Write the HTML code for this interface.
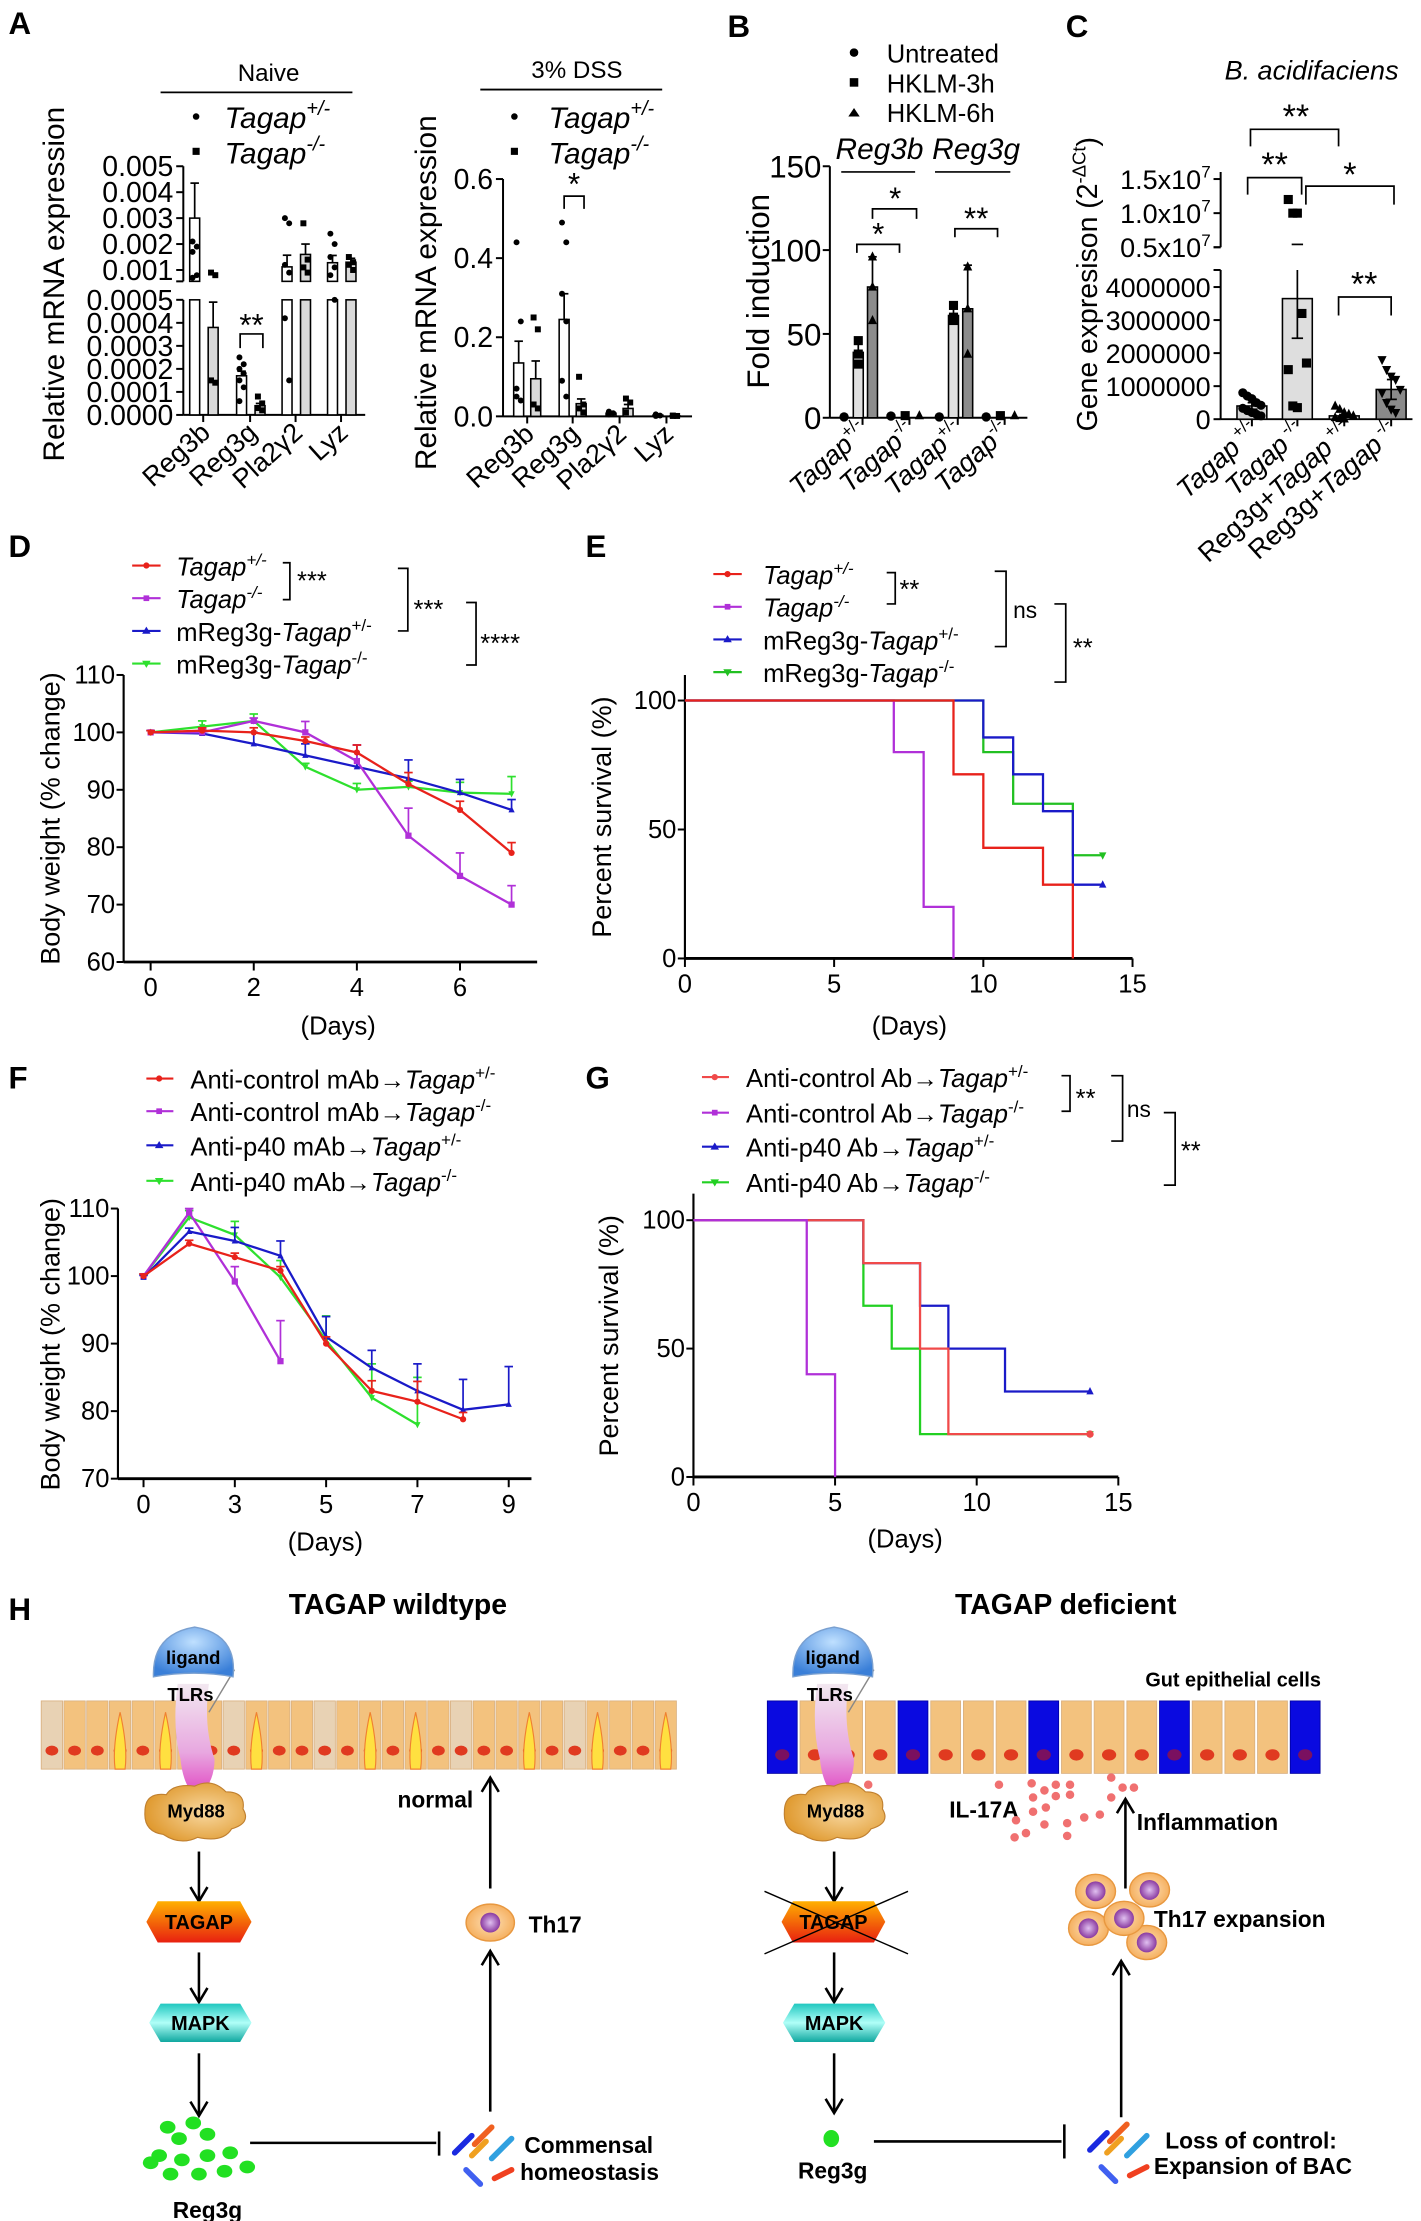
<!DOCTYPE html>
<html><head><meta charset="utf-8"><title>TAGAP figure</title>
<style>
html,body{margin:0;padding:0;background:#fff;}
svg{display:block;font-family:"Liberation Sans",Arial,sans-serif;}
</style></head>
<body>
<svg id="fig" xmlns="http://www.w3.org/2000/svg" width="1421" height="2221" viewBox="0 0 1000 1563">
<defs>
<linearGradient id="gTagap" x1="0" y1="0" x2="0" y2="1"><stop offset="0" stop-color="#ffb000"/><stop offset="1" stop-color="#e82010"/></linearGradient>
<linearGradient id="gMapk" x1="0" y1="0" x2="0" y2="1"><stop offset="0" stop-color="#20c8c0"/><stop offset="0.5" stop-color="#b0fff8"/><stop offset="1" stop-color="#10a8a0"/></linearGradient>
<radialGradient id="gLig" cx="0.5" cy="0.3" r="0.7"><stop offset="0" stop-color="#bfe0ff"/><stop offset="1" stop-color="#3a7fd8"/></radialGradient>
<linearGradient id="gTlr" x1="0" y1="0" x2="0" y2="1"><stop offset="0" stop-color="#f2e8f0"/><stop offset="0.6" stop-color="#e8a8e0"/><stop offset="1" stop-color="#e040c0"/></linearGradient>
<radialGradient id="gMyd" cx="0.6" cy="0.5" r="0.6"><stop offset="0" stop-color="#f8d8a0"/><stop offset="1" stop-color="#e09a30"/></radialGradient>
<radialGradient id="gCell" cx="0.5" cy="0.5" r="0.5"><stop offset="0" stop-color="#fde0b8"/><stop offset="1" stop-color="#f5b060"/></radialGradient>
<radialGradient id="gNuc" cx="0.5" cy="0.5" r="0.5"><stop offset="0" stop-color="#e0c0f0"/><stop offset="1" stop-color="#8a3aa0"/></radialGradient>
</defs>

<text x="6" y="24" font-size="22" font-weight="bold">A</text>
<text x="512" y="26" font-size="22" font-weight="bold">B</text>
<text x="750" y="26" font-size="22" font-weight="bold">C</text>
<text x="6" y="392" font-size="22" font-weight="bold">D</text>
<text x="412" y="392" font-size="22" font-weight="bold">E</text>
<text x="6" y="766" font-size="22" font-weight="bold">F</text>
<text x="412" y="766" font-size="22" font-weight="bold">G</text>
<text x="6" y="1140" font-size="22" font-weight="bold">H</text>

<g>
<text x="189" y="57" font-size="17" text-anchor="middle">Naive</text>
<line x1="113" y1="65" x2="248" y2="65" stroke="#000" stroke-width="1.3"/>
<text x="406" y="55" font-size="17" text-anchor="middle">3% DSS</text>
<line x1="338" y1="63" x2="466" y2="63" stroke="#000" stroke-width="1.3"/>
</g>
<g>
<circle cx="138" cy="82" r="2.3"/><text x="158" y="90" font-size="21" font-style="italic">Tagap<tspan dy="-9" font-size="14">+/-</tspan></text>
<rect x="135.5" y="104" width="5" height="5"/><text x="158" y="115" font-size="21" font-style="italic">Tagap<tspan dy="-9" font-size="14">-/-</tspan></text>
<circle cx="362" cy="82" r="2.3"/><text x="386" y="90" font-size="21" font-style="italic">Tagap<tspan dy="-9" font-size="14">+/-</tspan></text>
<rect x="359.5" y="104" width="5" height="5"/><text x="386" y="115" font-size="21" font-style="italic">Tagap<tspan dy="-9" font-size="14">-/-</tspan></text>
</g>
<text transform="translate(45,200) rotate(-90)" font-size="21" text-anchor="middle">Relative  mRNA expression</text>
<text transform="translate(307,206) rotate(-90)" font-size="21" text-anchor="middle">Relative  mRNA expression</text>

<g>
<circle cx="601" cy="37" r="3"/><text x="624" y="44" font-size="18">Untreated</text>
<rect x="598" y="55" width="6" height="6"/><text x="624" y="65" font-size="18">HKLM-3h</text>
<path d="M601,76 L605,82 L597,82 Z"/><text x="624" y="86" font-size="18">HKLM-6h</text>
<text x="588" y="112" font-size="21" font-style="italic">Reg3b</text>
<text x="656" y="112" font-size="21" font-style="italic">Reg3g</text>
<line x1="592" y1="121" x2="644" y2="121" stroke="#000" stroke-width="1.2"/>
<line x1="658" y1="121" x2="711" y2="121" stroke="#000" stroke-width="1.2"/>
</g>
<text transform="translate(541,205) rotate(-90)" font-size="22" text-anchor="middle">Fold induction</text>

<text x="923" y="56" font-size="19" font-style="italic" text-anchor="middle">B. acidifaciens</text>
<text transform="translate(772,200) rotate(-90)" font-size="20" text-anchor="middle">Gene expresison (2<tspan dy="-8" font-size="13">-ΔCt</tspan><tspan dy="8">)</tspan></text>

<g font-size="18">
<line x1="93" y1="398" x2="113" y2="398" stroke="#e8221b" stroke-width="1.5"/><circle cx="103" cy="398" r="2.2" fill="#e8221b"/>
<text x="124" y="405" font-style="italic">Tagap<tspan dy="-7" font-size="12">+/-</tspan></text>
<line x1="93" y1="421" x2="113" y2="421" stroke="#b030d8" stroke-width="1.5"/><rect x="101" y="419" width="4" height="4" fill="#b030d8"/>
<text x="124" y="428" font-style="italic">Tagap<tspan dy="-7" font-size="12">-/-</tspan></text>
<line x1="93" y1="444" x2="113" y2="444" stroke="#1a1ac8" stroke-width="1.5"/><path d="M103,441 L106,446 L100,446Z" fill="#1a1ac8"/>
<text x="124" y="451">mReg3g-<tspan font-style="italic">Tagap</tspan><tspan dy="-7" font-size="12">+/-</tspan></text>
<line x1="93" y1="467" x2="113" y2="467" stroke="#2ee02e" stroke-width="1.5"/><path d="M103,470 L106,465 L100,465Z" fill="#2ee02e"/>
<text x="124" y="474">mReg3g-<tspan font-style="italic">Tagap</tspan><tspan dy="-7" font-size="12">-/-</tspan></text>
<path d="M199,396 H204 V422 H199" fill="none" stroke="#000" stroke-width="1.2"/><text x="209" y="415" font-size="18">***</text>
<path d="M280,400 H287 V444 H280" fill="none" stroke="#000" stroke-width="1.2"/><text x="291" y="435" font-size="18">***</text>
<path d="M328,424 H335 V468 H328" fill="none" stroke="#000" stroke-width="1.2"/><text x="338" y="459" font-size="18">****</text>
</g>
<text transform="translate(42,576) rotate(-90)" font-size="19" text-anchor="middle">Body weight (% change)</text>
<text x="238" y="728" font-size="18" text-anchor="middle">(Days)</text>

<g font-size="18">
<line x1="502" y1="404" x2="522" y2="404" stroke="#e8221b" stroke-width="1.5"/><circle cx="512" cy="404" r="2.2" fill="#e8221b"/>
<text x="537" y="411" font-style="italic">Tagap<tspan dy="-7" font-size="12">+/-</tspan></text>
<line x1="502" y1="427" x2="522" y2="427" stroke="#b030d8" stroke-width="1.5"/><rect x="510" y="425" width="4" height="4" fill="#b030d8"/>
<text x="537" y="434" font-style="italic">Tagap<tspan dy="-7" font-size="12">-/-</tspan></text>
<line x1="502" y1="450" x2="522" y2="450" stroke="#1a1ac8" stroke-width="1.5"/><path d="M512,447 L515,452 L509,452Z" fill="#1a1ac8"/>
<text x="537" y="457">mReg3g-<tspan font-style="italic">Tagap</tspan><tspan dy="-7" font-size="12">+/-</tspan></text>
<line x1="502" y1="473" x2="522" y2="473" stroke="#22c022" stroke-width="1.5"/><path d="M512,476 L515,471 L509,471Z" fill="#22c022"/>
<text x="537" y="480">mReg3g-<tspan font-style="italic">Tagap</tspan><tspan dy="-7" font-size="12">-/-</tspan></text>
<path d="M624,403 H630 V425 H624" fill="none" stroke="#000" stroke-width="1.2"/><text x="633" y="421" font-size="18">**</text>
<path d="M700,402 H708 V455 H700" fill="none" stroke="#000" stroke-width="1.2"/><text x="713" y="435" font-size="16">ns</text>
<path d="M742,425 H750 V480 H742" fill="none" stroke="#000" stroke-width="1.2"/><text x="755" y="462" font-size="18">**</text>
</g>
<text transform="translate(430,575) rotate(-90)" font-size="19" text-anchor="middle">Percent survival (%)</text>
<text x="640" y="728" font-size="18" text-anchor="middle">(Days)</text>

<g font-size="18">
<line x1="103" y1="759" x2="122" y2="759" stroke="#e8221b" stroke-width="1.5"/><circle cx="112" cy="759" r="2.2" fill="#e8221b"/>
<text x="134" y="766">Anti-control mAb→<tspan font-style="italic">Tagap</tspan><tspan dy="-7" font-size="12">+/-</tspan></text>
<line x1="103" y1="782" x2="122" y2="782" stroke="#b030d8" stroke-width="1.5"/><rect x="110" y="780" width="4" height="4" fill="#b030d8"/>
<text x="134" y="789">Anti-control mAb→<tspan font-style="italic">Tagap</tspan><tspan dy="-7" font-size="12">-/-</tspan></text>
<line x1="103" y1="806" x2="122" y2="806" stroke="#1a1ac8" stroke-width="1.5"/><path d="M112,803 L115,808 L109,808Z" fill="#1a1ac8"/>
<text x="134" y="813">Anti-p40 mAb→<tspan font-style="italic">Tagap</tspan><tspan dy="-7" font-size="12">+/-</tspan></text>
<line x1="103" y1="831" x2="122" y2="831" stroke="#2ee02e" stroke-width="1.5"/><path d="M112,834 L115,829 L109,829Z" fill="#2ee02e"/>
<text x="134" y="838">Anti-p40 mAb→<tspan font-style="italic">Tagap</tspan><tspan dy="-7" font-size="12">-/-</tspan></text>
</g>
<text transform="translate(42,946) rotate(-90)" font-size="19" text-anchor="middle">Body weight (% change)</text>
<text x="229" y="1091" font-size="18" text-anchor="middle">(Days)</text>

<g font-size="18">
<line x1="494" y1="758" x2="513" y2="758" stroke="#f04a4a" stroke-width="1.5"/><circle cx="503" cy="758" r="2.2" fill="#f04a4a"/>
<text x="525" y="765">Anti-control Ab→<tspan font-style="italic">Tagap</tspan><tspan dy="-7" font-size="12">+/-</tspan></text>
<line x1="494" y1="783" x2="513" y2="783" stroke="#b030d8" stroke-width="1.5"/><rect x="501" y="781" width="4" height="4" fill="#b030d8"/>
<text x="525" y="790">Anti-control Ab→<tspan font-style="italic">Tagap</tspan><tspan dy="-7" font-size="12">-/-</tspan></text>
<line x1="494" y1="807" x2="513" y2="807" stroke="#1a1ac8" stroke-width="1.5"/><path d="M503,804 L506,809 L500,809Z" fill="#1a1ac8"/>
<text x="525" y="814">Anti-p40 Ab→<tspan font-style="italic">Tagap</tspan><tspan dy="-7" font-size="12">+/-</tspan></text>
<line x1="494" y1="832" x2="513" y2="832" stroke="#22d022" stroke-width="1.5"/><path d="M503,835 L506,830 L500,830Z" fill="#22d022"/>
<text x="525" y="839">Anti-p40 Ab→<tspan font-style="italic">Tagap</tspan><tspan dy="-7" font-size="12">-/-</tspan></text>
<path d="M747,757 H753 V782 H747" fill="none" stroke="#000" stroke-width="1.2"/><text x="757" y="779" font-size="18">**</text>
<path d="M782,757 H790 V803 H782" fill="none" stroke="#000" stroke-width="1.2"/><text x="793" y="786" font-size="16">ns</text>
<path d="M819,783 H827 V834 H819" fill="none" stroke="#000" stroke-width="1.2"/><text x="831" y="816" font-size="18">**</text>
</g>
<text transform="translate(435,940) rotate(-90)" font-size="19" text-anchor="middle">Percent survival (%)</text>
<text x="637" y="1089" font-size="18" text-anchor="middle">(Days)</text>

<g id="hpanel">
<text x="280" y="1136" font-size="20" font-weight="bold" text-anchor="middle">TAGAP wildtype</text>
<text x="750" y="1136" font-size="20" font-weight="bold" text-anchor="middle">TAGAP deficient</text>
<text x="806" y="1187" font-size="14" font-weight="bold">Gut epithelial cells</text>
<g id="epiL"></g>
<g id="epiR"></g>
</g>
</svg>

<script>
const NS='http://www.w3.org/2000/svg';
const svg=document.getElementById('fig');

// ===== Panel A data =====
const aGenes=['Reg3b','Reg3g','Pla2γ2','Lyz'];
const aNaiveHet=[0.003,0.00017,0.00112,0.00128];
const aNaiveHetSem=[0.00135,0.00002,0.00045,0.00028];
const aNaiveKo=[0.00038,0.00004,0.0016,0.0013];
const aNaiveKoSem=[0.00011,0.00001,0.0004,0.00015];
const aNaiveHetPts=[[0.0021,0.0019,0.0017,0.0008,0.0007],[0.00025,0.00022,0.0002,0.00018,0.00015,0.00012,0.00006],[0.003,0.0028,0.0012,0.0009,0.00042,0.00015],[0.0024,0.002,0.0015,0.0011,0.0008,0.0005]];
const aNaiveKoPts=[[0.0009,0.0008,0.00015,0.00014],[0.00008,0.00005,0.00003,0.00002],[0.0028,0.0014,0.0011,0.0009],[0.0015,0.0013,0.0012,0.001]];
const aNaiveTicksUp=[0.001,0.002,0.003,0.004,0.005];
const aNaiveTicksLo=[0,0.0001,0.0002,0.0003,0.0004,0.0005];
const aDssHet=[0.135,0.245,0.008,0.003];
const aDssHetSem=[0.055,0.065,0.003,0.002];
const aDssKo=[0.095,0.032,0.02,0.001];
const aDssKoSem=[0.045,0.012,0.01,0.001];
const aDssHetPts=[[0.44,0.24,0.07,0.04,0.05],[0.49,0.44,0.31,0.24,0.09,0.05],[0.012,0.008,0.005],[0.005,0.002,0.001]];
const aDssKoPts=[[0.25,0.22,0.03,0.02],[0.1,0.03,0.02,0.01],[0.045,0.035,0.01],[0.002,0.001,0.001]];
const aDssTicks=[0,0.2,0.4,0.6];

// ===== Panel B data =====
const bGroups=['Tagap +/- Reg3b','Tagap -/- Reg3b','Tagap +/- Reg3g','Tagap -/- Reg3g'];
const bLabels=['+/-','-/-','+/-','-/-'];
const bUntreated=[0.5,1,0.5,0.5];
const bH3=[39,0.5,61,0.5];
const bH3Sem=[6,0,5,0];
const bH6=[78,0.5,65,0.5];
const bH6Sem=[18,0,26,0];
const bH3Pts=[[46,32,38],[0],[67,58,60],[0]];
const bH6Pts=[[96,58,78],[0],[90,38,65],[0]];
const bTicks=[0,50,100,150];

// ===== Panel C data =====
const cGroups=['Tagap +/-','Tagap -/-','Reg3g+Tagap +/-','Reg3g+Tagap -/-'];
const cVals=[400000,3650000,100000,900000];
const cSem=[100000,1200000,40000,300000];
const cPts=[[800000,700000,620000,500000,420000,330000,260000,200000,150000,100000],[12000000,10000000,10000000,3200000,1700000,1500000,400000,350000],[400000,300000,200000,150000,100000,50000,20000,10000],[1800000,1500000,1300000,1200000,900000,800000,500000,300000,200000]];
const cTicksLo=[0,1000000,2000000,3000000,4000000];
const cTicksUp=[5000000,10000000,15000000];
const cTickUpLabels=['0.5x10','1.0x10','1.5x10'];

// ===== Panel D data =====
const dDays=[0,1,2,3,4,5,6,7];
const dHet=[100,100.3,100,98.5,96.5,91,86.5,79];
const dKo=[100,100,102,100,95,82,75,70];
const dRegHet=[100,99.8,98,96,94,92,89.5,86.5];
const dRegKo=[100,101,102,94,90,90.5,89.5,89.3];
const dHetSem=[0.3,0.5,0.8,0.7,1.3,2,1.5,1.8];
const dKoSem=[0.3,0.6,0.5,1.9,2.8,4.8,4,3.3];
const dRegHetSem=[0.3,0.5,2,2,3.8,3.2,2.3,1.8];
const dRegKoSem=[0.3,1,1.2,0.6,1.1,1,1.8,3];
const dYTicks=[60,70,80,90,100,110];
const dXTicks=[0,2,4,6];

// ===== Panel E data =====
const eHetT=[0,9,10,12,13], eHetS=[100,71.4,42.9,28.6,0], eHetEnd=13;
const eKoT=[0,7,8,9], eKoS=[100,80,20,0], eKoEnd=9;
const eRegHetT=[0,10,11,12,13], eRegHetS=[100,85.7,71.4,57.1,28.6], eRegHetEnd=14;
const eRegKoT=[0,10,11,13], eRegKoS=[100,80,60,40], eRegKoEnd=14;
const eXTicks=[0,5,10,15];
const eYTicks=[0,50,100];

// ===== Panel F data =====
const fXLabels=['0','3','5','7','9'];
const fCtrlHet=[100,104.8,102.8,100.8,90,83,81.4,78.8];
const fCtrlKo=[100,109.4,99.2,87.4];
const fP40Het=[99.8,106.6,105.2,103,91,86.4,83,80.2,81];
const fP40Ko=[100,108.7,106.1,99.8,90.5,82,78];
const fCtrlHetSem=[0.3,0.5,0.6,0.6,1,1.5,3,1];
const fCtrlKoSem=[0.3,0.6,2.2,6];
const fP40HetSem=[0.3,0.5,2,2.2,3,2.6,4,4.5,5.6];
const fP40KoSem=[0.3,1,2,2.5,3.6,5,7];
const fYTicks=[70,80,90,100,110];

// ===== Panel G data =====
const gCtrlHetT=[0,6,8,9], gCtrlHetS=[100,83.3,50,16.7], gCtrlHetEnd=14;
const gCtrlKoT=[0,4,5], gCtrlKoS=[100,40,0], gCtrlKoEnd=5;
const gP40HetT=[0,6,8,9,11], gP40HetS=[100,83.3,66.7,50,33.3], gP40HetEnd=14;
const gP40KoT=[0,6,7,8], gP40KoS=[100,66.7,50,16.7], gP40KoEnd=14;

function mk(t,a,p){const e=document.createElementNS(NS,t);for(const k in a)e.setAttribute(k,a[k]);(p||svg).appendChild(e);return e;}
function lin(d0,d1,r0,r1){return v=>r0+(v-d0)*(r1-r0)/(d1-d0);}
function ln(x1,y1,x2,y2,c,w,p){return mk('line',{x1:x1,y1:y1,x2:x2,y2:y2,stroke:c||'#000','stroke-width':w||1.4},p);}
function tx(x,y,s,size,p,anchor){const e=mk('text',{x:x,y:y,'font-size':size,'text-anchor':anchor||'end'},p);e.textContent=s;return e;}
function marker(shape,x,y,s,c,p){
  let e;
  if(shape==='c') e=mk('circle',{cx:x,cy:y,r:s,fill:c},p);
  else if(shape==='s') e=mk('rect',{x:x-s,y:y-s,width:2*s,height:2*s,fill:c},p);
  else if(shape==='t') e=mk('path',{d:'M'+x+','+(y-s*1.2)+' L'+(x+s)+','+(y+s*0.8)+' L'+(x-s)+','+(y+s*0.8)+'Z',fill:c},p);
  else e=mk('path',{d:'M'+x+','+(y+s*1.2)+' L'+(x+s)+','+(y-s*0.8)+' L'+(x-s)+','+(y-s*0.8)+'Z',fill:c},p);
  return e;
}
function errbar(x,y0,y1,p,c){const g=mk('g',{},p);ln(x,y0,x,y1,c||'#000',1.2,g);ln(x-3,y1,x+3,y1,c||'#000',1.2,g);return g;}
function rotLabel(x,y,parts,size,p){
  const e=mk('text',{transform:'translate('+x+','+y+') rotate(-42)','font-size':size,'text-anchor':'end'},p);
  parts.forEach(pt=>{const s=mk('tspan',pt.a||{},e);s.textContent=pt.t;});
  return e;
}

// ---------- Panel A naive ----------
(function(){
  const g=mk('g',{});
  
  
  const yUp=lin(0.001,0.005,190,117), yLo=lin(0,0.0005,292,211);
  const yv=v=>v>0.00056?yUp(v):yLo(v);
  const ticks=[143,176,208,240];
  ln(129,117,129,198,'#000',1.4,g); ln(129,211,129,292,'#000',1.4,g); ln(129,292,257,292,'#000',1.4,g);
  aNaiveTicksUp.forEach(v=>{ln(124,yUp(v),129,yUp(v),'#000',1.4,g);const t=tx(122,yUp(v)+7,v.toFixed(3),20,g);});
  ln(124,198,129,198,'#000',1.4,g);
  aNaiveTicksLo.forEach(v=>{ln(124,yLo(v),129,yLo(v),'#000',1.4,g);const t=tx(122,yLo(v)+7,v.toFixed(4),20,g);});
  aGenes.forEach((gn,i)=>{
    ln(ticks[i],292,ticks[i],297,'#000',1.4,g);
    const lb=rotLabel(ticks[i]+6,306,[{t:gn}],19,g);
    
    
    [[aNaiveHet,aNaiveHetSem,aNaiveHetPts,-6,'#fff','c'],[aNaiveKo,aNaiveKoSem,aNaiveKoPts,7,'#d9d9d9','s']].forEach(s=>{
      const v=s[0][i], cx=ticks[i]+s[3];
      if(v>0.00056){
        const r1=mk('rect',{x:cx-3.5,y:211,width:7,height:81,fill:s[4],stroke:'#000','stroke-width':1.1},g);
        
        
        const r2=mk('rect',{x:cx-3.5,y:yUp(v),width:7,height:198-yUp(v),fill:s[4],stroke:'#000','stroke-width':1.1},g);
        
        
      } else {
        const r=mk('rect',{x:cx-3.5,y:yLo(v),width:7,height:292-yLo(v),fill:s[4],stroke:'#000','stroke-width':1.1},g);
        
        
      }
      errbar(cx,yv(v),yv(v+s[1][i]),g);
      s[2][i].forEach((p,j)=>{const m=marker(s[5],cx+(j%2?1.5:-1.5),yv(p),2.1,'#000',g);});
    });
  });
  const b=mk('path',{d:'M169,245 V235 H185 V245',fill:'none',stroke:'#000','stroke-width':1.2},g);
  
  
  tx(177,236,'**',22,g,'middle');
})();

// ---------- Panel A DSS ----------
(function(){
  const g=mk('g',{});
  
  
  const y=lin(0,0.6,293,126);
  const ticks=[371,403,436,469];
  ln(354,126,354,293,'#000',1.4,g); ln(354,293,487,293,'#000',1.4,g);
  aDssTicks.forEach(v=>{ln(349,y(v),354,y(v),'#000',1.4,g);const t=tx(347,y(v)+7,v.toFixed(1),20,g);});
  aGenes.forEach((gn,i)=>{
    ln(ticks[i],293,ticks[i],298,'#000',1.4,g);
    const lb=rotLabel(ticks[i]+6,307,[{t:gn}],19,g);
    
    
    [[aDssHet,aDssHetSem,aDssHetPts,-6,'#fff','c'],[aDssKo,aDssKoSem,aDssKoPts,6,'#d9d9d9','s']].forEach(s=>{
      const v=s[0][i], cx=ticks[i]+s[3];
      const r=mk('rect',{x:cx-3.5,y:y(v),width:7,height:293-y(v),fill:s[4],stroke:'#000','stroke-width':1.1},g);
      
      
      errbar(cx,y(v),y(v+s[1][i]),g);
      s[2][i].forEach((p,j)=>{const m=marker(s[5],cx+(j%2?1.5:-1.5),y(p),2.1,'#000',g);});
    });
  });
  const b=mk('path',{d:'M397,147 V138 H411 V147',fill:'none',stroke:'#000','stroke-width':1.2},g);
  
  
  tx(404,137,'*',22,g,'middle');
})();

// ---------- Panel B ----------
(function(){
  const g=mk('g',{});
  
  
  const y=lin(0,150,294,117);
  const centers=[604,637,671,704];
  ln(584,117,584,294,'#000',1.4,g); ln(584,294,723,294,'#000',1.4,g);
  bTicks.forEach(v=>{ln(579,y(v),584,y(v),'#000',1.4,g);const t=tx(578,y(v)+8,String(v),22,g);});
  bGroups.forEach((gn,i)=>{
    const c=centers[i];
    ln(c+3,294,c+3,299,'#000',1.4,g);
    const lb=rotLabel(c+8,305,[{t:'Tagap',a:{'font-style':'italic'}},{t:bLabels[i],a:{dy:-8,'font-size':12}}],19,g);
    
    
    const u=marker('c',c-10,y(bUntreated[i]),3.3,'#000',g);
    
    
    [[bH3,bH3Sem,bH3Pts,0,'#e0e0e0','s'],[bH6,bH6Sem,bH6Pts,10,'#8c8c8c','t']].forEach(s=>{
      const v=s[0][i], cx=c+s[3];
      if(v>2){
        const r=mk('rect',{x:cx-3.5,y:y(v),width:7,height:294-y(v),fill:s[4],stroke:'#000','stroke-width':1.1},g);
        
        
        errbar(cx,y(v),y(v+s[1][i]),g);
      }
      s[2][i].forEach(p=>{const m=marker(s[5],cx,y(p)-(p===0?1.5:0),3.2,'#000',g);});
    });
  });
  [['M614,154 V147 H645 V154',630,147,'*'],['M603,178 V172 H633 V178',618,172,'*'],['M672,167 V161 H702 V167',687,161,'**']].forEach(b=>{
    const p=mk('path',{d:b[0],fill:'none',stroke:'#000','stroke-width':1.2},g);
    
    
    tx(b[1],b[2],b[3],22,g,'middle');
  });
})();

// ---------- Panel C ----------
(function(){
  const g=mk('g',{});
  
  
  const yLo=lin(0,4000000,295,202), yUp=lin(5000000,15000000,174,126);
  const yv=v=>v>4500000?yUp(Math.max(v,4600000)):yLo(v);
  const centers=[881,913,946,979];
  ln(859,121,859,174,'#000',1.4,g); ln(859,190,859,295,'#000',1.4,g); ln(859,295,994,295,'#000',1.4,g);
  ln(854,190,859,190,'#000',1.4,g); ln(854,174,859,174,'#000',1.4,g);
  cTicksLo.forEach(v=>{ln(854,yLo(v),859,yLo(v),'#000',1.4,g);const t=tx(852,yLo(v)+7,String(v),19,g);});
  cTicksUp.forEach((v,i)=>{ln(854,yUp(v),859,yUp(v),'#000',1.4,g);const t=mk('text',{x:852,y:yUp(v)+7,'font-size':19,'text-anchor':'end'},g);const a=mk('tspan',{},t);a.textContent=cTickUpLabels[i];const b=mk('tspan',{dy:-8,'font-size':12},t);b.textContent='7';});
  const fills=['#d6d6d6','#dedede','#d6d6d6','#8a8a8a'];
  const shapes=['c','s','t','v'];
  const labs=[[{t:'Tagap',a:{'font-style':'italic'}},{t:' +/-',a:{dy:-8,'font-size':12}}],[{t:'Tagap',a:{'font-style':'italic'}},{t:' -/-',a:{dy:-8,'font-size':12}}],[{t:'Reg3g+'},{t:'Tagap',a:{'font-style':'italic'}},{t:' +/-',a:{dy:-8,'font-size':12}}],[{t:'Reg3g+'},{t:'Tagap',a:{'font-style':'italic'}},{t:' -/-',a:{dy:-8,'font-size':12}}]];
  cGroups.forEach((gn,i)=>{
    const c=centers[i], v=cVals[i];
    ln(c,295,c,300,'#000',1.4,g);
    const lb=rotLabel(c+6,305,labs[i],19,g);
    
    
    const r=mk('rect',{x:c-10.5,y:yLo(v),width:21,height:295-yLo(v),fill:fills[i],stroke:'#000','stroke-width':1.1},g);
    
    
    const top=v+cSem[i];
    if(top>4500000){ln(c,yLo(v),c,190,'#000',1.2,g);ln(c-4,yUp(5000000)-2,c+4,yUp(5000000)-2,'#000',1.2,g);}
    else errbar(c,yLo(v),yLo(top),g);
    ln(c-4,yLo(v-cSem[i]),c+4,yLo(v-cSem[i]),'#000',1.2,g); ln(c,yLo(v),c,yLo(v-cSem[i]),'#000',1.2,g);
    cPts[i].forEach((p,j)=>{const m=marker(shapes[i],c+((j%5)-2)*3.2,yv(p),3.2,'#000',g);});
  });
  [['M880,103 V91 H942 V103',912,90,'**'],['M878,137 V125 H916 V137',897,124,'**'],['M919,144 V131 H981 V144',950,131,'*'],['M942,222 V209 H979 V222',960,208,'**']].forEach(b=>{
    const p=mk('path',{d:b[0],fill:'none',stroke:'#000','stroke-width':1.2},g);
    
    
    tx(b[1],b[2],b[3],24,g,'middle');
  });
})();

// ---------- line charts ----------
function lineSeries(g,xs,ys,sems,x,y,color,shape,name){
  const pts=ys.map((v,i)=>x(xs[i])+','+y(v)).join(' ');
  const pl=mk('polyline',{points:pts,fill:'none',stroke:color,'stroke-width':1.6},g);
  
  
  ys.forEach((v,i)=>{
    errbar(x(xs[i]),y(v),y(v+sems[i]),g,color);
    const m=marker(shape,x(xs[i]),y(v),2.2,color,g);
    
    
  });
}
function survSeries(g,ts,ss,end,x,y,color,shape,name){
  let d='M'+x(ts[0])+','+y(ss[0]);
  for(let i=1;i!==ts.length;i++){d+=' H'+x(ts[i])+' V'+y(ss[i]);}
  const last=ss[ss.length-1];
  if(last>0) d+=' H'+x(end);
  const p=mk('path',{d:d,fill:'none',stroke:color,'stroke-width':1.6},g);
  
  
  if(last>0){const m=marker(shape,x(end),y(last),2.6,color,g);}
}
function axesXY(g,x0,x1,yb,yt,xtPos,xtLab,ytVals,x,y,fs){
  ln(x0,yt,x0,yb,'#000',1.5,g); ln(x0,yb,x1,yb,'#000',2,g);
  ytVals.forEach(v=>{ln(x0-5,y(v),x0,y(v),'#000',1.4,g);const t=tx(x0-6,y(v)+6,String(v),fs,g);});
  xtPos.forEach((p,i)=>{ln(x(p),yb,x(p),yb+6,'#000',1.4,g);const t=tx(x(p),yb+24,xtLab[i],fs,g,'middle');});
}

// D
(function(){
  const g=mk('g',{});
  
  
  const x=lin(0,7,106,360), y=lin(60,110,677,475);
  axesXY(g,87,378,677,475,dXTicks,dXTicks.map(String),dYTicks,x,y,18);
  lineSeries(g,dDays,dRegKo,dRegKoSem,x,y,'#2ee02e','v','d-mreg3g-tagap-ko');
  lineSeries(g,dDays,dRegHet,dRegHetSem,x,y,'#1a1ac8','t','d-mreg3g-tagap-het');
  lineSeries(g,dDays,dKo,dKoSem,x,y,'#b030d8','s','d-tagap-ko');
  lineSeries(g,dDays,dHet,dHetSem,x,y,'#e8221b','c','d-tagap-het');
})();
// E
(function(){
  const g=mk('g',{});
  
  
  const x=lin(0,15,482,797), y=lin(0,100,674.5,493);
  axesXY(g,482,797,674.5,475,eXTicks,eXTicks.map(String),eYTicks,x,y,18);
  survSeries(g,eRegKoT,eRegKoS,eRegKoEnd,x,y,'#22c022','v','e-mreg3g-tagap-ko');
  survSeries(g,eRegHetT,eRegHetS,eRegHetEnd,x,y,'#1a1ac8','t','e-mreg3g-tagap-het');
  survSeries(g,eKoT,eKoS,eKoEnd,x,y,'#b030d8','s','e-tagap-ko');
  survSeries(g,eHetT,eHetS,eHetEnd,x,y,'#e8221b','c','e-tagap-het');
})();
// F
(function(){
  const g=mk('g',{});
  
  
  const x=lin(0,8,101,358), y=lin(70,110,1040.6,850.5);
  axesXY(g,83,374,1040.6,850.5,[0,2,4,6,8],fXLabels,fYTicks,x,y,18);
  const idx=n=>Array.from({length:n},(_,i)=>i);
  lineSeries(g,idx(fP40Ko.length),fP40Ko,fP40KoSem,x,y,'#2ee02e','v','f-anti-p40-tagap-ko');
  lineSeries(g,idx(fCtrlKo.length),fCtrlKo,fCtrlKoSem,x,y,'#b030d8','s','f-anti-control-tagap-ko');
  lineSeries(g,idx(fP40Het.length),fP40Het,fP40HetSem,x,y,'#1a1ac8','t','f-anti-p40-tagap-het');
  lineSeries(g,idx(fCtrlHet.length),fCtrlHet,fCtrlHetSem,x,y,'#e8221b','c','f-anti-control-tagap-het');
})();
// G
(function(){
  const g=mk('g',{});
  
  
  const x=lin(0,15,488,787), y=lin(0,100,1039.4,858.7);
  axesXY(g,488,787,1039.4,840,eXTicks,eXTicks.map(String),eYTicks,x,y,18);
  survSeries(g,gP40KoT,gP40KoS,gP40KoEnd,x,y,'#22d022','v','g-anti-p40-tagap-ko');
  survSeries(g,gP40HetT,gP40HetS,gP40HetEnd,x,y,'#1a1ac8','t','g-anti-p40-tagap-het');
  survSeries(g,gCtrlHetT,gCtrlHetS,gCtrlHetEnd,x,y,'#f04a4a','c','g-anti-control-tagap-het');
  survSeries(g,gCtrlKoT,gCtrlKoS,gCtrlKoEnd,x,y,'#b030d8','s','g-anti-control-tagap-ko');
})();

// ---------- Panel H diagram ----------
(function(){
  const H=document.getElementById('hpanel');
  const eL=document.getElementById('epiL');
  let xL=29, k=0;
  const gobL=[3,5,9,14,16,21,24,27];
  const paleL=[0,8,12,18,23];
  while(xL<466){
    const w=16;
    mk('rect',{x:xL,y:1197,width:w-1,height:48,fill:paleL.includes(k)?'#e8d2b4':'#f3c27e',stroke:'#d9b080','stroke-width':0.6},eL);
    mk('ellipse',{cx:xL+7.5,cy:1232,rx:4.5,ry:3.5,fill:'#e03a20'},eL);
    if(gobL.includes(k)){mk('path',{d:'M'+(xL+7.5)+',1205 Q'+(xL+13)+',1230 '+(xL+11)+',1245 H'+(xL+4)+' Q'+(xL+2)+',1230 '+(xL+7.5)+',1205Z',fill:'#ffe040',stroke:'#f08030','stroke-width':0.8},eL);}
    xL+=w;k++;
  }
  const eR=document.getElementById('epiR');
  const blueX=[540,633,723,816,907];
  let xR=540;
  while(xR<928){
    const isBlue=blueX.some(b=>Math.abs(b-xR)<12);
    mk('rect',{x:xR,y:1197,width:21,height:51,fill:isBlue?'#0a0ae0':'#f3c27e',stroke:isBlue?'#0000a0':'#d9b080','stroke-width':0.6},eR);
    mk('ellipse',{cx:xR+10.5,cy:1235,rx:5,ry:4,fill:isBlue?'#7a1060':'#e03a20'},eR);
    xR+=23;
  }
  function receptor(cx){
    mk('path',{d:'M'+(cx-12)+',1185 Q'+(cx-16)+',1215 '+(cx-10)+',1238 Q'+(cx-8)+',1258 '+(cx+2)+',1265 Q'+(cx+14)+',1255 '+(cx+14)+',1238 Q'+(cx+6)+',1215 '+(cx+10)+',1185Z',fill:'url(#gTlr)'},H);
    mk('line',{x1:cx+10,y1:1205,x2:cx+28,y2:1175,stroke:'#888','stroke-width':1},H);
    mk('path',{d:'M'+(cx-29)+',1180 Q'+(cx-30)+',1150 '+cx+',1145 Q'+(cx+30)+',1150 '+(cx+27)+',1180 Q'+cx+',1175 '+(cx-29)+',1180Z',fill:'url(#gLig)',stroke:'#7aa0d0','stroke-width':1},H);
    tx(cx-1,1171,'ligand',13,H,'middle').setAttribute('font-weight','bold');
    tx(cx-3,1197,'TLRs',13,H,'middle').setAttribute('font-weight','bold');
    mk('path',{d:'M'+(cx-35)+',1275 q0,-14 15,-12 q5,-8 20,-6 q12,-6 22,4 q14,0 12,12 q6,10 -8,14 q-6,10 -24,6 q-12,6 -24,-2 q-14,-2 -13,-16Z',fill:'url(#gMyd)',stroke:'#c08030','stroke-width':0.8},H);
    tx(cx+1,1279,'Myd88',13,H,'middle').setAttribute('font-weight','bold');
  }
  receptor(137); receptor(587);
  function arrowDown(x,y1,y2){ln(x,y1,x,y2,'#000',1.8,H);mk('path',{d:'M'+(x-6)+','+(y2-10)+' L'+x+','+y2+' L'+(x+6)+','+(y2-10),fill:'none',stroke:'#000','stroke-width':1.8},H);}
  function arrowUp(x,y1,y2){ln(x,y1,x,y2,'#000',1.8,H);mk('path',{d:'M'+(x-6)+','+(y2+10)+' L'+x+','+y2+' L'+(x+6)+','+(y2+10),fill:'none',stroke:'#000','stroke-width':1.8},H);}
  function hex(x0,x1,y0,y1,fill,label){
    const m=(y0+y1)/2;
    mk('path',{d:'M'+(x0+8)+','+y0+' H'+(x1-8)+' L'+x1+','+m+' L'+(x1-8)+','+y1+' H'+(x0+8)+' L'+x0+','+m+'Z',fill:fill},H);
    const t=tx((x0+x1)/2,m+5,label,14,H,'middle');t.setAttribute('font-weight','bold');
  }
  arrowDown(140,1303,1338); hex(103,177,1338,1367,'url(#gTagap)','TAGAP');
  arrowDown(140,1374,1409); hex(105,177,1410,1437,'url(#gMapk)','MAPK');
  arrowDown(140,1445,1489);
  [[118,1497],[136,1494],[126,1505],[146,1502],[112,1517],[128,1520],[146,1517],[162,1515],[120,1530],[140,1530],[158,1528],[174,1525],[106,1522]].forEach(p=>mk('ellipse',{cx:p[0],cy:p[1],rx:5.5,ry:4.5,fill:'#22e022'},H));
  tx(146,1561,'Reg3g',16,H,'middle').setAttribute('font-weight','bold');
  ln(176,1508,307,1508,'#000',1.8,H); ln(309,1500,309,1517,'#000',1.8,H);
  arrowDown(587,1303,1338); hex(550,623,1338,1367,'url(#gTagap)','TAGAP');
  ln(538,1331,639,1375,'#000',1,H); ln(538,1375,639,1331,'#000',1,H);
  arrowDown(587,1374,1409); hex(551,623,1410,1437,'url(#gMapk)','MAPK');
  arrowDown(587,1445,1487);
  mk('ellipse',{cx:585,cy:1505,rx:5.5,ry:6,fill:'#22e022'},H);
  tx(586,1533,'Reg3g',16,H,'middle').setAttribute('font-weight','bold');
  ln(615,1507,747,1507,'#000',1.8,H); ln(749,1495,749,1519,'#000',1.8,H);
  function bacteria(x,y){
    [[0,0,12,-12,'#1a2ae0'],[14,-6,26,-18,'#f06020'],[26,4,40,-10,'#30a0e0'],[8,12,18,22,'#4060f0'],[12,2,22,-8,'#f0a020'],[28,18,40,12,'#f04020']].forEach(b=>{
      mk('line',{x1:x+b[0],y1:y+b[1],x2:x+b[2],y2:y+b[3],stroke:b[4],'stroke-width':4,'stroke-linecap':'round'},H);
    });
  }
  bacteria(320,1515); bacteria(767,1513);
  let t;
  t=tx(369,1515,'Commensal',16,H,'start');t.setAttribute('font-weight','bold');
  t=tx(366,1534,'homeostasis',16,H,'start');t.setAttribute('font-weight','bold');
  t=tx(820,1512,'Loss of control:',16,H,'start');t.setAttribute('font-weight','bold');
  t=tx(812,1530,'Expansion of BAC',16,H,'start');t.setAttribute('font-weight','bold');
  arrowUp(345,1486,1373);
  mk('ellipse',{cx:345,cy:1353,rx:17,ry:13,fill:'url(#gCell)',stroke:'#e89840','stroke-width':1},H);
  mk('circle',{cx:345,cy:1353,r:7,fill:'url(#gNuc)'},H);
  t=tx(372,1360,'Th17',16,H,'start');t.setAttribute('font-weight','bold');
  arrowUp(345,1329,1251);
  t=tx(333,1272,'normal',16,H,'end');t.setAttribute('font-weight','bold');
  arrowUp(789,1490,1380);
  [[771,1331],[809,1330],[766,1357],[807,1367],[791,1350]].forEach(p=>{mk('ellipse',{cx:p[0],cy:p[1],rx:14,ry:12,fill:'url(#gCell)',stroke:'#e89840','stroke-width':1},H);mk('circle',{cx:p[0],cy:p[1],r:7,fill:'url(#gNuc)'},H);});
  t=tx(812,1356,'Th17 expansion',16,H,'start');t.setAttribute('font-weight','bold');
  arrowUp(792,1329,1266);
  t=tx(800,1288,'Inflammation',16,H,'start');t.setAttribute('font-weight','bold');
  t=tx(668,1279,'IL-17A',16,H,'start');t.setAttribute('font-weight','bold');
  [[703,1256],[726,1255],[735,1260],[743,1256],[753,1256],[727,1265],[743,1264],[753,1263],[736,1272],[727,1275],[763,1279],[774,1277],[715,1281],[735,1284],[751,1283],[722,1290],[714,1293],[751,1292],[782,1265],[782,1251],[790,1258],[798,1258],[611,1256]].forEach(p=>mk('circle',{cx:p[0],cy:p[1],r:3,fill:'#f07070'},H));
})();
</script>
</body></html>
